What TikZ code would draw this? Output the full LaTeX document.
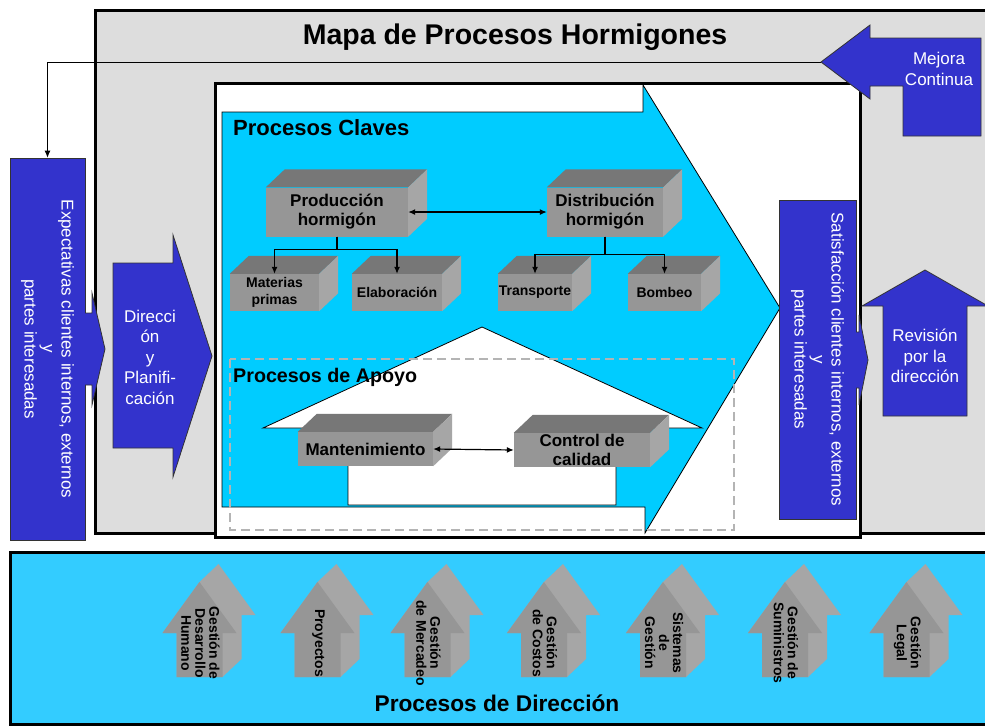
\documentclass[tikz,border=0pt]{standalone}
\usepackage{fontspec}
\setmainfont{Liberation Sans}
\usetikzlibrary{calc,arrows.meta}

\definecolor{azul}{HTML}{3333CC}
\definecolor{cian}{HTML}{00CCFF}
\definecolor{cianclaro}{HTML}{33CCFF}
\definecolor{grisfondo}{HTML}{DDDDDD}
\definecolor{grisfrente}{HTML}{969696}
\definecolor{gristapa}{HTML}{777777}
\definecolor{grislado}{HTML}{A6A6A6}
\definecolor{grisguion}{HTML}{B4B4B4}

\newcommand{\tamano}[2]{\fontsize{#1}{#2}\selectfont}

\begin{document}
\begin{tikzpicture}[x=1pt, y=-1pt,
    >={Latex[length=7pt,width=6pt]},
    caja/.style={fill=grisfrente, inner sep=0pt, minimum height=49, align=center, font=\bfseries\tamano{17}{19}},
    cajita/.style={caja, minimum height=37, font=\bfseries\tamano{14}{17}},
    bajo/.style={caja, minimum height=34},
    azulbox/.style={fill=azul, draw=black!80, line width=0.8pt},
    flechita/.style={fill=azul, draw=black!80, line width=0.8pt},
    textoblanco/.style={text=white, align=center, font=\tamano{17}{20.5}},
    rotulo/.style={font=\bfseries\tamano{14}{14}, align=center, rotate=-90},
    conector/.style={line width=1.2pt}
    ]

    \clip (0,0) rectangle (985,726);
    \fill[white] (0,0) rectangle (985,726);

    % Marco general
    \draw[fill=grisfondo, line width=3pt] (95,10) rectangle (995,533);
    \node[font=\bfseries\tamano{28.5}{32}, anchor=base] (titulo) at (515,44) {Mapa de Procesos Hormigones};

    % Caja central
    \draw[fill=white, line width=3pt] (215,83) rectangle (860,537);

    % Flecha de procesos claves
    \draw[fill=cian, line width=0.8pt] (222,112) -- (643,112) -- (643,85) -- (780,308)
        -- (645,533) -- (645,507) -- (222,507) -- cycle;

    % Procesos de apoyo
    \draw[fill=white, line width=0.8pt] (482,327) -- (702,428) -- (616,428) -- (616,505)
        -- (348,505) -- (348,428) -- (263,428) -- cycle;
    \draw[grisguion, line width=2.5pt, dash pattern=on 9pt off 5pt] (230,359) rectangle (734,530);

    \node[font=\bfseries\tamano{22}{26}, anchor=base west, inner sep=0pt] (claves) at (233,135) {Procesos Claves};
    \node[font=\bfseries\tamano{19.7}{24}, anchor=base west, inner sep=0pt] (apoyo) at (233,382) {Procesos de Apoyo};

    % Define nodes
    \node[caja, minimum width=142] (prod) at (337,212) {Producción\\hormigón};
    \node[caja, minimum width=116] (dist) at (605,212) {Distribución\\hormigón};
    \node[cajita, minimum width=89] (mat) at (274.5,292.5) {Materias\\primas};
    \node[cajita, minimum width=90] (elab) at (397,292.5) {Elaboración};
    \node[cajita, minimum width=74] (trans) at (535,292.5) {Transporte};
    \node[cajita, minimum width=73] (bomb) at (664.5,292.5) {Bombeo};
    \node[bajo, minimum width=135] (mant) at (365.5,449) {Mantenimiento};
    \node[bajo, minimum width=136] (ctrl) at (582,450) {Control de\\calidad};

    % Caras de los bloques
    \foreach \n in {prod,dist,mat,elab,trans,bomb,mant,ctrl} {
        \fill[gristapa] (\n.north west) -- ++(19,-18) -- ($(\n.north east)+(19,-18)$) -- (\n.north east) -- cycle;
        \fill[grislado] (\n.north east) -- ++(19,-18) -- ($(\n.south east)+(19,-18)$) -- (\n.south east) -- cycle;
    }

    % Draw directed edges
    \draw[<->, conector] (prod.east) -- (dist.west);
    \draw[->, conector] (prod.south) -- ++(0,13) -| (mat.north);
    \draw[->, conector] (prod.south) -- ++(0,13) -| (elab.north);
    \draw[->, conector] (dist.south) -- ++(0,18) -| (trans.north);
    \draw[->, conector] (dist.south) -- ++(0,18) -| (bomb.north);
    \draw[<->, conector] (mant.east) -- (ctrl.west);

    % Entradas
    \node[azulbox, minimum width=75, minimum height=382] (expect) at (47.5,349) {};
    \node[textoblanco, rotate=-90, font=\tamano{17}{18.5}] (expecttxt) at (expect.center)
        {Expectativas clientes internos, externos\\y\\partes interesadas};
    \draw[flechita] (85,313) -- (92,313) -- (92,293) -- (105,349) -- (92,405) -- (92,385) -- (85,385);

    \draw[flechita] (113,263) -- (173,263) -- (173,235) -- (212,356) -- (173,477) -- (173,448) -- (113,448) -- cycle;
    \node[textoblanco] (dirtxt) at (150,357) {Direcci\\ón\\y\\Planifi-\\cación};

    % Salidas
    \node[azulbox, minimum width=77, minimum height=319] (satis) at (817.5,359.5) {};
    \node[textoblanco, rotate=-90, font=\tamano{17}{18.5}] (satistxt) at (satis.center)
        {Satisfacción clientes internos, externos\\y\\partes interesadas};
    \draw[flechita] (856,332) -- (859,332) -- (859,315) -- (868,360) -- (859,405) -- (859,388) -- (856,388);

    \draw[flechita] (883,416) -- (883,306) -- (862,306) -- (925,270) -- (988,306) -- (967,306) -- (967,416) -- cycle;
    \node[textoblanco] (revtxt) at (925,356) {Revisión\\por la\\dirección};

    \coordinate (mejora) at (821,62);
    \draw[->, line width=0.8pt] (mejora) -| (expect.north);
    \draw[flechita] (mejora) -- (870,25) -- (870,38) -- (981,38) -- (981,136) -- (903,136)
        -- (903,86) -- (870,86) -- (870,99) -- cycle;
    \node[textoblanco] (mejoratxt) at (939,69) {Mejora\\Continua};

    % Procesos de direccion
    \draw[fill=cianclaro, line width=3pt] (10,552) rectangle (995,724);
    \foreach \cx/\txt [count=\i] in {199.5/{Gestión de\\Desarrollo\\Humano}, 317.5/Proyectos,
        427.5/{Gestión\\de Mercadeo}, 544/{Gestión\\de Costos}, 663/{Sistemas\\de\\Gestión},
        785/{Gestión de\\Suministros}, 906.5/{Gestión\\Legal}} {
        \fill[grislado] (\cx-37,633) -- (\cx,582) -- (\cx+19,564) -- (\cx+56,615) -- (\cx+42,615)
            -- (\cx+42,659) -- (\cx+23,677) -- (\cx-23,677) -- (\cx-23,633) -- cycle;
        \fill[grisfrente] (\cx-37,633) -- (\cx,582) -- (\cx+37,633) -- (\cx+23,633)
            -- (\cx+23,677) -- (\cx-23,677) -- (\cx-23,633) -- cycle;
        \node[rotulo] (ges\i) at (\cx+1,643) {\txt};
    }
    \node[font=\bfseries\tamano{22.7}{26}, anchor=base] (direccion) at (497,711) {Procesos de Dirección};

\end{tikzpicture}
\end{document}
